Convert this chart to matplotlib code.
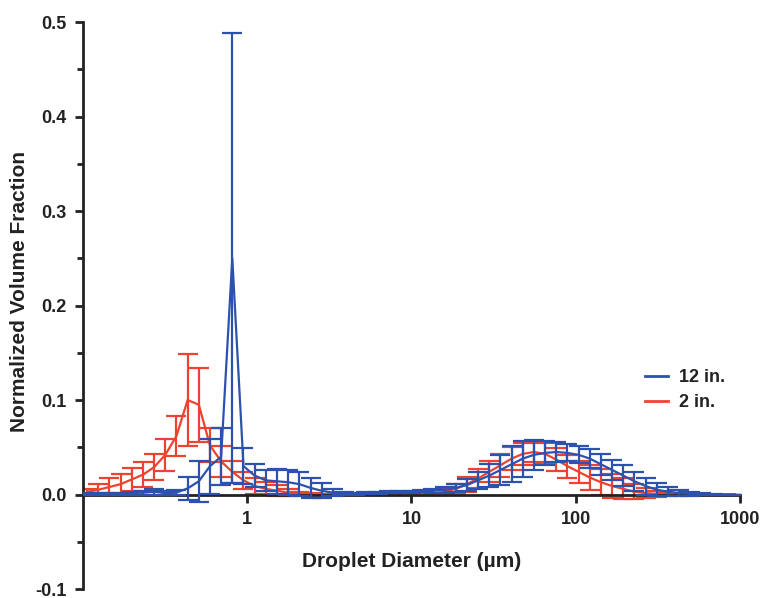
import numpy as np
import matplotlib
matplotlib.use("Agg")
import matplotlib.pyplot as plt
from matplotlib.ticker import FixedLocator, NullLocator, FixedFormatter
from matplotlib.lines import Line2D

plt.rcParams['font.family'] = ['Liberation Sans', 'DejaVu Sans']
plt.rcParams['font.weight'] = 'bold'
plt.rcParams['axes.unicode_minus'] = False

# Droplet diameter bins (µm)
diameter = [0.1060, 0.1240, 0.1450, 0.1696, 0.1983, 0.2319, 0.2712, 0.3171, 0.3709,
            0.4337, 0.5072, 0.5931, 0.6936, 0.8111, 0.9490, 1.110, 1.298, 1.518,
            1.775, 2.076, 2.428, 2.840, 3.321, 3.884, 4.543, 5.312, 6.213, 7.265,
            8.498, 9.94, 11.62, 13.59, 15.90, 18.59, 21.74, 25.43, 29.74, 34.78,
            40.68, 47.57, 55.64, 65.07, 76.10, 89.0, 104.1, 121.7, 142.4, 166.5,
            194.7, 227.7, 266.3, 311.5, 364.3, 426.0, 498.2, 582.7, 681.5, 797.0,
            932.1]

# 12 in. series: mean and error
blue_mean = [0.001, 0.001, 0.001, 0.001, 0.0015, 0.002, 0.003, 0.0015, 0.002,
             0.0065, 0.014, 0.030, 0.040, 0.250, 0.030, 0.020, 0.015, 0.014,
             0.013, 0.011, 0.007, 0.004, 0.002, 0.001, 0.001, 0.0015, 0.002, 0.0025,
             0.003, 0.003, 0.0035, 0.004, 0.005, 0.007, 0.010, 0.015, 0.020, 0.026,
             0.032, 0.038, 0.042, 0.044, 0.045, 0.044, 0.042, 0.038, 0.032, 0.026,
             0.020, 0.014, 0.009, 0.005, 0.003, 0.0015, 0.0008, 0.0004, 0.0002, 0.0,
             0.0]
blue_err = [0.001, 0.001, 0.001, 0.001, 0.0015, 0.002, 0.003, 0.002, 0.003,
            0.0125, 0.022, 0.029, 0.030, 0.238, 0.019, 0.012, 0.011, 0.013,
            0.013, 0.013, 0.011, 0.008, 0.004, 0.002, 0.001, 0.001, 0.001, 0.001,
            0.001, 0.001, 0.001, 0.002, 0.003, 0.004, 0.006, 0.009, 0.012, 0.016,
            0.019, 0.019, 0.016, 0.013, 0.011, 0.009, 0.009, 0.010, 0.011, 0.011,
            0.011, 0.010, 0.009, 0.007, 0.005, 0.003, 0.002, 0.001, 0.0005, 0.0,
            0.0]

# 2 in. series: mean and error
red_mean = [0.003, 0.005, 0.008, 0.011, 0.016, 0.021, 0.029, 0.042, 0.062,
            0.100, 0.095, 0.052, 0.035, 0.024, 0.015, 0.009, 0.006, 0.004,
            0.002, 0.001, 0.0005, 0.0002, 0.0002, 0.0002, 0.0002, 0.0002, 0.0002, 0.0002,
            0.0002, 0.0002, 0.0005, 0.001, 0.003, 0.006, 0.011, 0.017, 0.024, 0.031,
            0.038, 0.043, 0.045, 0.043, 0.037, 0.030, 0.024, 0.018, 0.013, 0.009,
            0.006, 0.003, 0.0015, 0.0007, 0.0003, 0.0, 0.0, 0.0, 0.0, 0.0,
            0.0]
red_err = [0.003, 0.006, 0.009, 0.011, 0.012, 0.013, 0.014, 0.017, 0.021,
           0.049, 0.039, 0.018, 0.016, 0.012, 0.009, 0.008, 0.007, 0.006,
           0.004, 0.002, 0.001, 0.0003, 0.0003, 0.0003, 0.0003, 0.0003, 0.0003, 0.0003,
           0.0003, 0.0003, 0.0005, 0.001, 0.003, 0.005, 0.008, 0.010, 0.011, 0.012,
           0.012, 0.012, 0.011, 0.011, 0.012, 0.012, 0.012, 0.013, 0.014, 0.013,
           0.011, 0.008, 0.005, 0.003, 0.001, 0.0, 0.0, 0.0, 0.0, 0.0,
           0.0]

series_labels = ["12 in.", "2 in."]
x_ticks = [1, 10, 100, 1000]
x_ticklabels = ["1", "10", "100", "1000"]
y_ticks = [-0.1, 0.0, 0.1, 0.2, 0.3, 0.4, 0.5]
y_ticklabels = ["-0.1", "0.0", "0.1", "0.2", "0.3", "0.4", "0.5"]

BLUE = "#2D52AE"
RED = "#EC4330"
INK = "#222222"

fig = plt.figure(figsize=(7.64, 5.98), dpi=100)
ax = fig.add_axes([0.1086, 0.0150, 0.8600, 0.9482])

ax.errorbar(diameter, red_mean, yerr=red_err, color=RED, lw=1.6, elinewidth=1.6,
            capsize=7, capthick=1.6, zorder=2)
ax.errorbar(diameter, blue_mean, yerr=blue_err, color=BLUE, lw=1.6, elinewidth=1.6,
            capsize=7, capthick=1.6, zorder=3)

ax.set_xscale('log')
ax.set_xlim(0.1, 1000)
ax.set_ylim(-0.1, 0.5)

ax.spines['top'].set_visible(False)
ax.spines['right'].set_visible(False)
ax.spines['bottom'].set_position(('data', 0))
for s in ('left', 'bottom'):
    ax.spines[s].set_linewidth(2.0)
    ax.spines[s].set_color(INK)

ax.xaxis.set_major_locator(FixedLocator(x_ticks))
ax.xaxis.set_major_formatter(FixedFormatter(x_ticklabels))
ax.xaxis.set_minor_locator(NullLocator())
ax.yaxis.set_major_locator(FixedLocator(y_ticks))
ax.yaxis.set_major_formatter(FixedFormatter(y_ticklabels))
ax.yaxis.set_minor_locator(FixedLocator([-0.05, 0.05, 0.15, 0.25, 0.35, 0.45]))

ax.tick_params(axis='both', which='major', direction='out', length=6, width=2.0,
               color=INK, labelsize=13, pad=6)
ax.tick_params(axis='y', which='minor', direction='out', length=4, width=2.0, color=INK)
for lab in ax.get_xticklabels() + ax.get_yticklabels():
    lab.set_fontweight('bold')
    lab.set_color(INK)

ax.text(0.5, 0.049, "Droplet Diameter (µm)", transform=ax.transAxes, ha='center',
        va='center', fontsize=15, fontweight='bold', color=INK)
fig.text(20 / 764, 1 - 292 / 598, "Normalized Volume Fraction", rotation=90,
         ha='center', va='center', fontsize=15, fontweight='bold', color=INK)

handles = [Line2D([], [], color=BLUE, lw=2.0), Line2D([], [], color=RED, lw=2.0)]
leg = ax.legend(handles, series_labels,
                loc='center left', bbox_to_anchor=(645 / 764, 1 - 390 / 598),
                bbox_transform=fig.transFigure, frameon=False, fontsize=13,
                handlelength=1.3, handletextpad=0.6, borderpad=0, borderaxespad=0,
                labelspacing=0.45)
for t in leg.get_texts():
    t.set_fontweight('bold')
    t.set_color(INK)

fig.savefig("out.png", dpi=100)
